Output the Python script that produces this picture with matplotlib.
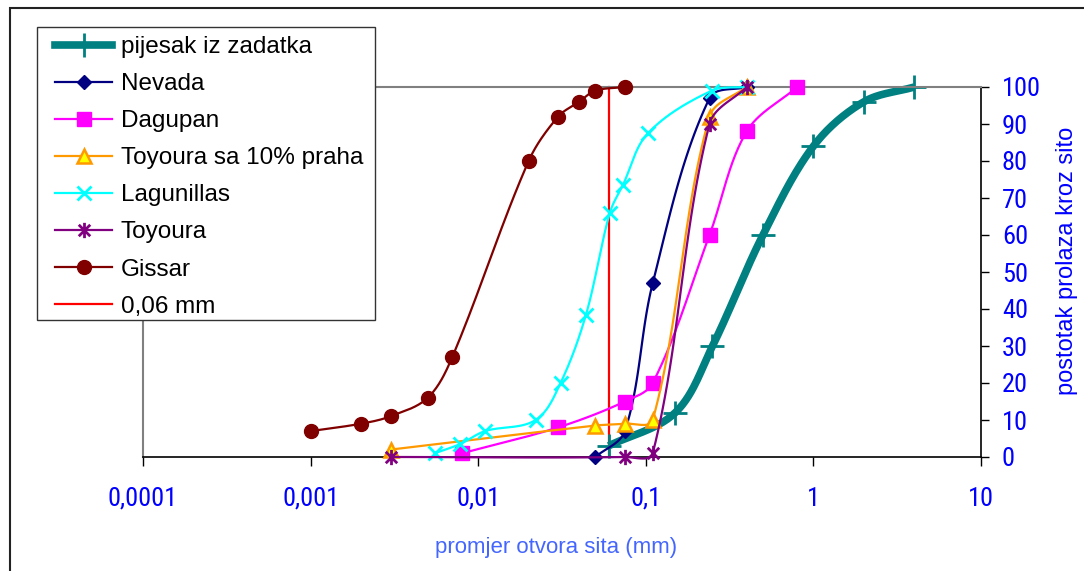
import numpy as np
import matplotlib
matplotlib.use("Agg")
import matplotlib.pyplot as plt
from matplotlib.lines import Line2D
from matplotlib.patches import Rectangle
from matplotlib.path import Path
from matplotlib.ticker import NullLocator
from matplotlib.font_manager import FontProperties

# grain size (mm) and percent passing for each sample
pijesak_x = [0.06, 0.15, 0.25, 0.5, 1, 2, 4]
pijesak_y = [3, 12, 30, 60, 84, 96, 100]
nevada_x = [0.05, 0.075, 0.11, 0.24, 0.4]
nevada_y = [0, 7, 47, 97, 100]
dagupan_x = [0.008, 0.03, 0.075, 0.11, 0.24, 0.4, 0.8]
dagupan_y = [1, 8, 15, 20, 60, 88, 100]
toy10_x = [0.003, 0.05, 0.075, 0.11, 0.24, 0.4]
toy10_y = [2, 8.5, 9, 10, 92, 100]
lagun_x = [0.0055, 0.0078, 0.011, 0.022, 0.031, 0.044, 0.061, 0.073, 0.103, 0.247, 0.4]
lagun_y = [1, 3.5, 7, 10, 20, 38.5, 66, 73.5, 87.5, 99, 100]
toyoura_x = [0.003, 0.075, 0.11, 0.24, 0.4]
toyoura_y = [0, 0, 1, 90, 100]
gissar_x = [0.001, 0.002, 0.003, 0.005, 0.007, 0.02, 0.03, 0.04, 0.05, 0.075]
gissar_y = [7, 9, 11, 16, 27, 80, 92, 96, 99, 100]
granica_x = [0.06, 0.06]
granica_y = [0, 100]

x_ticks = [1e-4, 1e-3, 1e-2, 1e-1, 1, 10]
x_ticklabels = ["0,0001", "0,001", "0,01", "0,1", "1", "10"]
y_ticks = list(range(0, 101, 10))

W, H = 1084, 571
fig = plt.figure(figsize=(W / 100, H / 100), dpi=100)
ax = fig.add_axes([143 / W, 1 - 457 / H, 838 / W, 370 / H])
ax.set_xscale("log")
ax.set_xlim(1e-4, 10)
ax.set_ylim(0, 100)


def smooth(xs, ys, n=30):
    # excel-like smoothed line, bezier through the points in pixel space
    p = ax.transData.transform(np.column_stack([xs, ys]))
    out = [p[0]]
    for i in range(len(p) - 1):
        p0 = p[i - 1] if i > 0 else p[i]
        p1, p2 = p[i], p[i + 1]
        p3 = p[i + 2] if i + 2 < len(p) else p[i + 1]
        L = np.hypot(*(p2 - p1))
        d1 = p2 - p0
        d2 = p3 - p1
        d1 = d1 / (np.hypot(*d1) or 1)
        d2 = d2 / (np.hypot(*d2) or 1)
        c1 = p1 + d1 * L / 3
        c2 = p2 - d2 * L / 3
        t = np.linspace(0, 1, n)[1:, None]
        seg = (1 - t) ** 3 * p1 + 3 * (1 - t) ** 2 * t * c1 + 3 * (1 - t) * t ** 2 * c2 + t ** 3 * p2
        out.extend(seg)
    out = ax.transData.inverted().transform(np.array(out))
    return out[:, 0], out[:, 1]


star = Path([(0, -1), (0, 1), (-0.75, -0.75), (0.75, 0.75), (-0.75, 0.75), (0.75, -0.75)],
            [Path.MOVETO, Path.LINETO, Path.MOVETO, Path.LINETO, Path.MOVETO, Path.LINETO])

series = [
    ("pijesak iz zadatka", pijesak_x, pijesak_y,
     dict(color="#008080", lw=5.5), dict(marker="+", ms=17, mew=2, mec="#008080")),
    ("Nevada", nevada_x, nevada_y,
     dict(color="#000080", lw=1.6), dict(marker="D", ms=7.5, mfc="#000080", mec="#000080")),
    ("Dagupan", dagupan_x, dagupan_y,
     dict(color="#FF00FF", lw=1.6), dict(marker="s", ms=10, mfc="#FF00FF", mec="#FF00FF")),
    ("Toyoura sa 10% praha", toy10_x, toy10_y,
     dict(color="#FF9900", lw=1.6), dict(marker="^", ms=10, mfc="#FFFF00", mec="#FF9900", mew=1.8)),
    ("Lagunillas", lagun_x, lagun_y,
     dict(color="#00FFFF", lw=1.6), dict(marker="x", ms=10, mew=2, mec="#00FFFF")),
    ("Toyoura", toyoura_x, toyoura_y,
     dict(color="#800080", lw=1.6), dict(marker=star, ms=11, mew=2, mec="#800080", mfc="none")),
    ("Gissar", gissar_x, gissar_y,
     dict(color="#800000", lw=1.6), dict(marker="o", ms=10, mfc="#800000", mec="#800000")),
]

# 0,06 mm boundary
ax.plot(granica_x, granica_y, color="#FF0000", lw=1.6, zorder=1, clip_on=False)

handles = []
for k, (name, xs, ys, lkw, mkw) in enumerate(series):
    sx, sy = smooth(xs, ys)
    ax.plot(sx, sy, zorder=2 + k, clip_on=False, solid_capstyle="butt", **lkw)
    ax.plot(xs, ys, ls="none", zorder=2 + k, clip_on=False, **mkw)
    handles.append(Line2D([], [], **lkw, **mkw))
handles.append(Line2D([], [], color="#FF0000", lw=1.6))
labels = [s[0] for s in series] + ["0,06 mm"]

ax.set_xticks(x_ticks)
ax.set_xticklabels(x_ticklabels)
ax.xaxis.set_minor_locator(NullLocator())
ax.set_yticks(y_ticks)
ax.yaxis.tick_right()
tick_font = FontProperties(family=["Roboto Condensed", "Liberation Sans Narrow", "Liberation Sans"], size=19)
for lab in ax.get_xticklabels() + ax.get_yticklabels():
    lab.set_fontproperties(tick_font)
ax.tick_params(axis="x", direction="out", length=6.5, width=1, pad=15, labelcolor="#0000FF")
ax.tick_params(axis="y", direction="out", length=6, width=1, pad=9, labelcolor="#0000FF")

for side in ["top", "left"]:
    ax.spines[side].set_color("#808080")
    ax.spines[side].set_linewidth(1.5)
for side in ["bottom", "right"]:
    ax.spines[side].set_color("#000000")
    ax.spines[side].set_linewidth(1.2)

fig.text(556 / W, 1 - 548 / H, "promjer otvora sita (mm)", ha="center", va="center",
         color="#4466FF", fontsize=16, family="Liberation Sans")
fig.text(1067 / W, 1 - 261 / H, "postotak prolaza kroz sito", rotation=90, ha="center", va="center",
         color="#0000FF", fontsize=17, family="Liberation Sans")

# legend box
fig.add_artist(Rectangle((37 / W, 1 - 320 / H), 338 / W, 293 / H, transform=fig.transFigure,
                         facecolor="white", edgecolor="#333333", lw=1, zorder=3))
leg = fig.legend(handles, labels, loc="upper left", bbox_to_anchor=(55 / W, 1 - 36 / H),
                 frameon=False, borderpad=0, borderaxespad=0, handlelength=2.35,
                 handletextpad=0.35, labelspacing=0.62,
                 prop=dict(family="Liberation Sans", size=17.5))
leg.set_zorder(5)

# outer chart border
fig.add_artist(Rectangle((10 / W, -0.1), 1.2, 1 - 8 / H + 0.1, transform=fig.transFigure,
                         fill=False, edgecolor="#222222", lw=1.5, zorder=0))

fig.savefig("out.png", dpi=100)
